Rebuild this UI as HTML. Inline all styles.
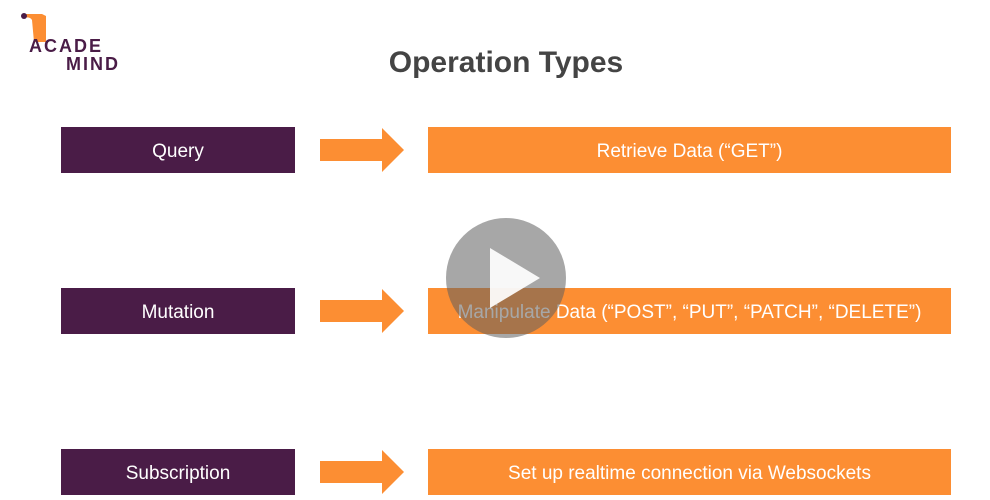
<!DOCTYPE html>
<html><head><style>
body{margin:0;width:990px;height:500px;background:#fff;position:relative;overflow:hidden;font-family:"Liberation Sans",sans-serif}
.b{position:absolute;height:46px;color:#fff;font-size:19px;display:flex;align-items:center;justify-content:center;padding-top:4px;box-sizing:border-box}
.p{left:61px;width:234px;background:#4a1c47}
.o{left:428px;width:523px;background:#fc8e33}
h1{position:absolute;left:0;width:1012px;top:46px;margin:0;text-align:center;font-size:30px;color:#444;font-weight:bold}
</style></head><body>
<svg style="position:absolute;left:0;top:0" width="140" height="80">
<path d="M22 14 L42 14 L46 16 L46 42 L34 42 L32 20 Q30 16 22 18Z" fill="#fc8e33"/>
<circle cx="24" cy="16" r="3" fill="#4a1c47"/>
<text x="29" y="52" font-family="Liberation Sans" font-weight="bold" font-size="18" fill="#4a1c47" letter-spacing="2">ACADE</text>
<text x="66" y="70" font-family="Liberation Sans" font-weight="bold" font-size="18" fill="#4a1c47" letter-spacing="2">MIND</text>
</svg>
<h1>Operation Types</h1>
<div class="b p" style="top:127px">Query</div>
<div class="b o" style="top:127px">Retrieve Data (“GET”)</div>
<div class="b p" style="top:288px">Mutation</div>
<div class="b o" style="top:288px">Manipulate Data (“POST”, “PUT”, “PATCH”, “DELETE”)</div>
<div class="b p" style="top:449px">Subscription</div>
<div class="b o" style="top:449px">Set up realtime connection via Websockets</div>
<svg style="position:absolute;left:0;top:0" width="990" height="500">
<g fill="#fc8e33">
<polygon points="320,139 382,139 382,128 404,150 382,172 382,161 320,161"/>
<polygon points="320,300 382,300 382,289 404,311 382,333 382,322 320,322"/>
<polygon points="320,461 382,461 382,450 404,472 382,494 382,483 320,483"/>
</g>
<circle cx="506" cy="278" r="60" fill="rgba(95,95,95,0.55)"/>
<polygon points="490,248 490,308 540,278" fill="#fff" opacity="0.92"/>
</svg>
</body></html>
